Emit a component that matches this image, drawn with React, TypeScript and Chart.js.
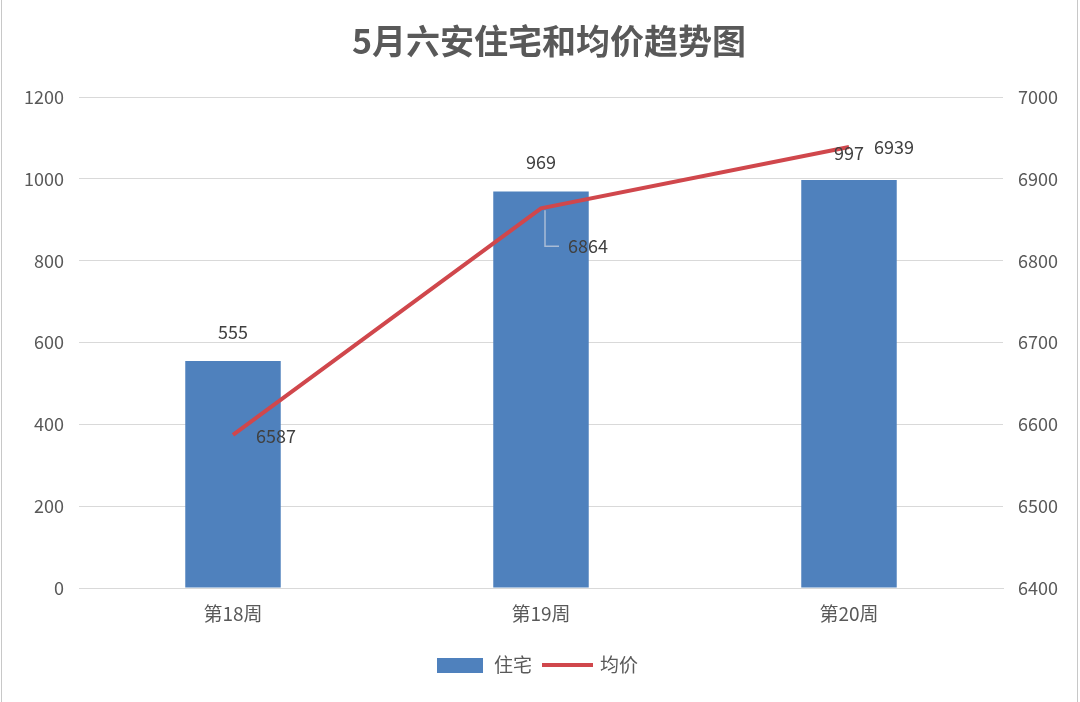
import React, { useEffect, useRef } from "react";
import { Chart, registerables } from "chart.js";

Chart.register(...registerables);

const FONT = '"Noto Sans CJK SC", "Noto Sans", sans-serif';

const titleText = "5月六安住宅和均价趋势图";
const categories = ["第18周", "第19周", "第20周"];
const housingValues = [555, 969, 997];
const avgPriceValues = [6587, 6864, 6939];
const seriesNames = ["住宅", "均价"];

const BAR_COLOR = "#4F81BD";
const LINE_COLOR = "#D0474C";
const TEXT_COLOR = "#595959";
const LABEL_COLOR = "#404040";
const GRID_COLOR = "#D9D9D9";

// label placement (offsets relative to each mark)
const barLabelDy = [-29, -29, -27];
const lineLabelOffsets = [
  { dx: 43, dy: 1 },
  { dx: 47, dy: 38 },
  { dx: 45, dy: 0 },
];

const overlayPlugin = {
  id: "overlay",
  beforeDraw(chart: any) {
    const ctx = chart.ctx;
    ctx.save();
    ctx.fillStyle = "#ffffff";
    ctx.fillRect(0, 0, chart.width, chart.height);
    ctx.restore();
  },
  afterDraw(chart: any) {
    const ctx = chart.ctx;
    ctx.save();
    // frame
    ctx.strokeStyle = "#C8C8C8";
    ctx.lineWidth = 1;
    ctx.beginPath();
    ctx.moveTo(1.5, 0);
    ctx.lineTo(1.5, chart.height);
    ctx.moveTo(chart.width - 2.5, 0);
    ctx.lineTo(chart.width - 2.5, chart.height);
    ctx.stroke();

    // title
    ctx.fillStyle = TEXT_COLOR;
    ctx.font = `bold 34px ${FONT}`;
    ctx.textAlign = "center";
    ctx.textBaseline = "middle";
    ctx.fillText(titleText, 549, 41);

    // data labels
    ctx.font = `18px ${FONT}`;
    ctx.fillStyle = LABEL_COLOR;
    const barMeta = chart.getDatasetMeta(0);
    barMeta.data.forEach((el: any, i: number) => {
      ctx.fillText(String(housingValues[i]), el.x, el.y + barLabelDy[i]);
    });
    const lineMeta = chart.getDatasetMeta(1);
    lineMeta.data.forEach((el: any, i: number) => {
      const o = lineLabelOffsets[i];
      if (o.dy > 20) {
        ctx.save();
        ctx.strokeStyle = "#A9BCD6";
        ctx.lineWidth = 1.5;
        ctx.beginPath();
        ctx.moveTo(el.x + 4, el.y + 2);
        ctx.lineTo(el.x + 4, el.y + o.dy);
        ctx.lineTo(el.x + 18, el.y + o.dy);
        ctx.stroke();
        ctx.restore();
      }
      ctx.fillText(String(avgPriceValues[i]), el.x + o.dx, el.y + o.dy);
    });

    // legend
    const ly = 665;
    ctx.fillStyle = BAR_COLOR;
    ctx.fillRect(437, ly - 7, 46, 15);
    ctx.fillStyle = TEXT_COLOR;
    ctx.font = `19px ${FONT}`;
    ctx.textAlign = "left";
    ctx.fillText(seriesNames[0], 494, ly);
    ctx.strokeStyle = LINE_COLOR;
    ctx.lineWidth = 4;
    ctx.beginPath();
    ctx.moveTo(542, ly);
    ctx.lineTo(593, ly);
    ctx.stroke();
    ctx.fillText(seriesNames[1], 600, ly);
    ctx.restore();
  },
};

export default function App() {
  const ref = useRef<HTMLCanvasElement | null>(null);

  useEffect(() => {
    document.body.style.margin = "0";
    const canvas = ref.current;
    if (!canvas) return;
    const chart = new Chart(canvas, {
      type: "bar",
      data: {
        labels: categories,
        datasets: [
          {
            type: "bar",
            label: seriesNames[0],
            data: housingValues,
            backgroundColor: BAR_COLOR,
            yAxisID: "y",
            order: 1,
            categoryPercentage: 1,
            barPercentage: 0.31,
          } as any,
          {
            type: "line",
            label: seriesNames[1],
            data: avgPriceValues,
            borderColor: LINE_COLOR,
            backgroundColor: LINE_COLOR,
            borderWidth: 4,
            pointRadius: 0,
            tension: 0,
            yAxisID: "y1",
            order: 0,
          } as any,
        ],
      },
      options: {
        responsive: false,
        animation: false,
        devicePixelRatio: 1,
        layout: { padding: { top: 97, left: 0, right: 0, bottom: 0 } },
        plugins: {
          legend: { display: false },
          title: { display: false },
          tooltip: { enabled: false },
        },
        scales: {
          x: {
            grid: { display: false, drawTicks: false },
            border: { display: true, color: GRID_COLOR },
            ticks: {
              color: TEXT_COLOR,
              font: { family: FONT, size: 19 },
              padding: 14,
            },
            afterFit(s: any) {
              s.height = 114;
            },
          },
          y: {
            position: "left",
            min: 0,
            max: 1200,
            ticks: {
              stepSize: 200,
              color: TEXT_COLOR,
              font: { family: FONT, size: 18 },
              padding: 15,
              callback: (v: any) => String(v),
            },
            grid: { color: GRID_COLOR, drawTicks: false },
            border: { display: false },
            afterFit(s: any) {
              s.width = 79;
            },
          },
          y1: {
            position: "right",
            min: 6400,
            max: 7000,
            ticks: {
              stepSize: 100,
              color: TEXT_COLOR,
              font: { family: FONT, size: 18 },
              padding: 15,
              callback: (v: any) => String(v),
            },
            grid: { display: false, drawTicks: false },
            border: { display: false },
            afterFit(s: any) {
              s.width = 77;
            },
          },
        },
      } as any,
      plugins: [overlayPlugin],
    });
    return () => chart.destroy();
  }, []);

  return (
    <div style={{ width: 1080, height: 702, background: "#fff" }}>
      <canvas ref={ref} width={1080} height={702} />
    </div>
  );
}
